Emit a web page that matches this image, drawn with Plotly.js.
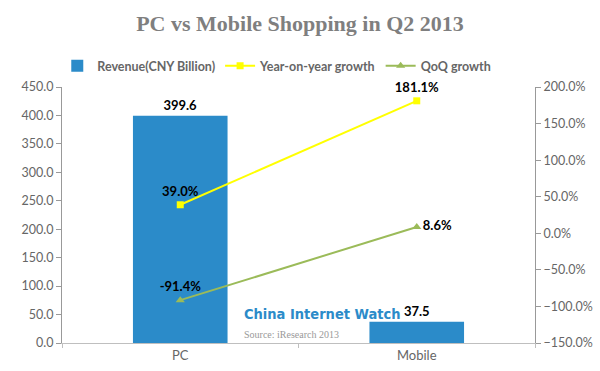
<!DOCTYPE html>
<html><head><meta charset="utf-8">
<script src="https://cdn.plot.ly/plotly-3.0.1.min.js"></script>
<style>body{margin:0}#c{width:600px;height:371px}</style>
</head><body><div id="c"></div>
<script>
const categories = ["PC", "Mobile"];
const revenue = [399.6, 37.5];
const yoyGrowth = [39.0, 181.1];
const qoqGrowth = [-91.4, 8.6];
const revenueLabels = ["399.6", "37.5"];
const yoyLabels = ["39.0%", "181.1%"];
const qoqLabels = ["-91.4%", "8.6%"];

const tickFont = {family: "Lato, 'DejaVu Sans', sans-serif", size: 12.5, color: "#666"};
const labelFont = {family: "Lato, sans-serif", size: 13, color: "#000", weight: "bold"};

const traces = [
  {type: "bar", name: "Revenue(CNY Billion)", x: categories, y: revenue, width: 0.4,
   marker: {color: "#2B8BC9"}, text: revenueLabels, textposition: "outside",
   textfont: labelFont, cliponaxis: false},
  {type: "scatter", mode: "lines+markers+text", name: "Year-on-year growth", x: categories, y: yoyGrowth, yaxis: "y2",
   line: {color: "#FFFF00", width: 2}, marker: {symbol: "square", size: 7, color: "#FFFF00"},
   text: yoyLabels, textposition: ["top center", "top center"],
   textfont: labelFont, cliponaxis: false},
  {type: "scatter", mode: "lines+markers+text", name: "QoQ growth", x: categories, y: qoqGrowth, yaxis: "y2",
   line: {color: "#9BBB59", width: 2}, marker: {symbol: "triangle-up", size: 8, color: "#9BBB59"},
   text: qoqLabels, textposition: ["top center", "middle right"],
   textfont: labelFont, cliponaxis: false}
];

const layout = {
  width: 600, height: 371,
  margin: {l: 62, r: 65, t: 87, b: 28},
  paper_bgcolor: "#fff", plot_bgcolor: "#fff",
  title: {text: "<b>PC vs Mobile Shopping in Q2 2013</b>", x: 0.5, xanchor: "center", y: 0.937, yanchor: "middle",
          font: {family: "'Liberation Serif', 'DejaVu Serif', serif", size: 22, color: "#7f7f7f"}},
  showlegend: true,
  legend: {orientation: "h", x: -0.01, xanchor: "left", y: 1.082, yanchor: "middle",
           font: {family: "Lato, sans-serif", size: 12.5, color: "#666", weight: "bold"}, itemwidth: 30, tracegroupgap: 0},
  bargap: 0.6,
  xaxis: {type: "category", showline: true, linecolor: "#bfbfbf", ticks: "outside", tickson: "boundaries",
          ticklen: 4, tickcolor: "#bfbfbf", tickfont: {family: "Lato, sans-serif", size: 13, color: "#666"},
          showgrid: false, zeroline: false},
  yaxis: {range: [0, 450], dtick: 50, tickformat: ".1f", showline: true, linecolor: "#999", ticks: "outside",
          ticklen: 5, tickcolor: "#999", tickfont: tickFont, showgrid: false, zeroline: false},
  yaxis2: {range: [-150, 200], dtick: 50, tickformat: ".1f", ticksuffix: "%", overlaying: "y", side: "right",
           showline: true, linecolor: "#999", ticks: "outside", ticklen: 5, tickcolor: "#999",
           tickfont: tickFont, showgrid: false, zeroline: false},
  annotations: [
    {xref: "paper", yref: "paper", x: 0.38, y: 0.003, xanchor: "left", yanchor: "bottom",
     text: "<span style='font-stretch:condensed'><b>China Internet Watch</b></span><br><span style='font-size:10px;color:#999;font-family:Liberation Serif'>Source: iResearch 2013</span>",
     align: "left", showarrow: false,
     font: {family: "'DejaVu Sans', sans-serif", size: 14.5, color: "#2B8BC9"}}
  ]
};

Plotly.newPlot("c", traces, layout, {displayModeBar: false, staticPlot: true});
</script>
</body></html>
